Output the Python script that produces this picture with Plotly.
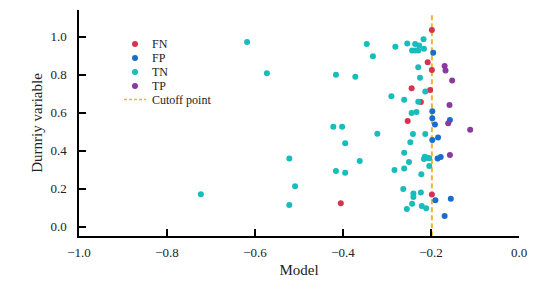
import plotly.graph_objects as go

# ---- data ----
fn_x = [-0.198, -0.2075, -0.198, -0.244, -0.202, -0.223, -0.253, -0.198, -0.405]
fn_y = [1.035, 0.865, 0.825, 0.728, 0.719, 0.656, 0.556, 0.169, 0.123]

fp_x = [-0.195, -0.197, -0.197, -0.157, -0.191, -0.197, -0.184, -0.185, -0.178, -0.190, -0.155, -0.169]
fp_y = [0.915, 0.607, 0.571, 0.561, 0.538, 0.456, 0.469, 0.359, 0.367, 0.139, 0.147, 0.056]

tn_x = [-0.217, -0.254, -0.236, -0.227, -0.281, -0.243, -0.236, -0.229, -0.216, -0.332,
        -0.346, -0.618, -0.573, -0.416, -0.372, -0.229, -0.225, -0.213, -0.290, -0.261,
        -0.229, -0.244, -0.233, -0.422, -0.402, -0.322, -0.241, -0.213, -0.395, -0.247,
        -0.261, -0.214, -0.208, -0.204, -0.216, -0.522, -0.362, -0.250, -0.204, -0.283,
        -0.261, -0.416, -0.395, -0.222, -0.509, -0.263, -0.240, -0.240, -0.223, -0.723,
        -0.522, -0.243, -0.255, -0.221, -0.211]
tn_y = [0.986, 0.964, 0.961, 0.953, 0.947, 0.927, 0.927, 0.927, 0.937, 0.897,
        0.961, 0.972, 0.807, 0.800, 0.789, 0.839, 0.784, 0.711, 0.687, 0.668,
        0.658, 0.598, 0.604, 0.526, 0.526, 0.489, 0.488, 0.488, 0.439, 0.445,
        0.389, 0.368, 0.363, 0.360, 0.356, 0.359, 0.346, 0.341, 0.319, 0.298,
        0.306, 0.293, 0.284, 0.276, 0.213, 0.198, 0.175, 0.156, 0.180, 0.171,
        0.114, 0.121, 0.093, 0.109, 0.097]

tp_x = [-0.169, -0.167, -0.152, -0.158, -0.161, -0.111, -0.157]
tp_y = [0.846, 0.822, 0.769, 0.641, 0.544, 0.510, 0.377]

cutoff_x = -0.198
cutoff_y_span = [-0.05, 1.115]

series_names = ["FN", "FP", "TN", "TP"]
series_colors = ["#d6334f", "#1a6dcc", "#15bdbb", "#8a3a9e"]
cutoff_color = "#f0b432"

x_ticks = [-1.0, -0.8, -0.6, -0.4, -0.2, 0.0]
y_ticks = [0.0, 0.2, 0.4, 0.6, 0.8, 1.0]

FONT = "Liberation Serif"

fig = go.Figure()

fig.add_trace(go.Scatter(
    x=[cutoff_x, cutoff_x], y=cutoff_y_span, mode="lines", name="Cutoff point",
    line=dict(color=cutoff_color, width=2, dash="5px,3px"), showlegend=False,
))

for name, color, xs, ys in zip(series_names, series_colors,
                               [fn_x, fp_x, tn_x, tp_x], [fn_y, fp_y, tn_y, tp_y]):
    fig.add_trace(go.Scatter(
        x=xs, y=ys, mode="markers", name=name, showlegend=False,
        marker=dict(color=color, size=6, line=dict(width=0)),
    ))

# ---- custom compact legend (paper coords) ----
L = 79.0
W = 440.0
B = 236.0
H = 226.0


def px2paper(px, py):
    return (px - L) / W, (B - py) / H


legend_rows = [44.0, 58.0, 72.0, 86.0]
cut_row = 99.5
shapes = []
annotations = []
for name, color, py in zip(series_names, series_colors, legend_rows):
    mx, my = px2paper(135, py)
    shapes.append(dict(type="circle", xref="paper", yref="paper",
                       xsizemode="pixel", ysizemode="pixel",
                       xanchor=mx, yanchor=my, x0=-3, x1=3, y0=-3, y1=3,
                       fillcolor=color, line=dict(width=0)))
    tx, ty = px2paper(151, py)
    annotations.append(dict(text=name, xref="paper", yref="paper", x=tx, y=ty,
                            xanchor="left", yanchor="middle", showarrow=False,
                            borderpad=0,
                            font=dict(family=FONT, size=12, color="#222")))

lx0, ly = px2paper(124, cut_row)
lx1, _ = px2paper(146, cut_row)
shapes.append(dict(type="line", xref="paper", yref="paper", x0=lx0, x1=lx1, y0=ly, y1=ly,
                   line=dict(color=cutoff_color, width=1.5, dash="3px,2px")))
tx, ty = px2paper(151, cut_row)
annotations.append(dict(text="Cutoff point", xref="paper", yref="paper", x=tx, y=ty,
                        xanchor="left", yanchor="middle", showarrow=False,
                        borderpad=0,
                        font=dict(family=FONT, size=12, color="#222")))

fig.update_layout(
    width=550, height=282,
    margin=dict(l=79, r=31, t=10, b=46),
    paper_bgcolor="white", plot_bgcolor="white",
    font=dict(family=FONT, size=13, color="#222"),
    shapes=shapes, annotations=annotations,
    showlegend=False,
)

fig.update_xaxes(
    range=[-1.0, 0.0], tickvals=x_ticks, tickformat=".1f", automargin=False,
    showgrid=False, zeroline=False, showline=True, linecolor="black", linewidth=1.5,
    ticks="inside", ticklen=7, tickwidth=1.5, tickcolor="black",
    ticklabelstandoff=4,
    title=dict(text="Model", font=dict(family=FONT, size=15), standoff=5),
)
fig.update_yaxes(
    range=[-0.049, 1.1405], tickvals=y_ticks, tickformat=".1f", automargin=False,
    showgrid=False, zeroline=False, showline=True, linecolor="black", linewidth=1.5,
    ticks="inside", ticklen=7, tickwidth=1.5, tickcolor="black",
    ticklabelstandoff=8,
    title=dict(text="Durnriy variable", font=dict(family=FONT, size=15), standoff=4),
)

fig.write_html("out.html",
               config={"displayModeBar": False},
               post_script="document.body.style.margin='0px';document.body.style.overflow='hidden';")
